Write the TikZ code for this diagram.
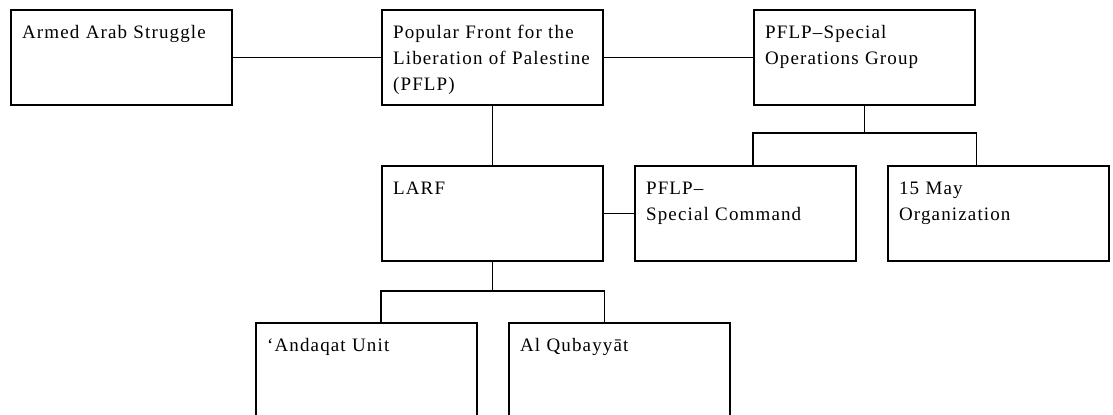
\documentclass[tikz,border=0pt]{standalone}
\usepackage{fontspec}
\setmainfont{Liberation Serif}[LetterSpace=6]
\tikzset{
  px/.style={x={(0.5pt,0pt)}, y={(0pt,-0.5pt)}},
  unit/.style={draw, line width=1.1pt, anchor=north west, align=left,
    minimum width=110.5pt, text width=99.5pt, inner xsep=5.5pt, inner ysep=0pt,
    text height=14pt, text depth=33.5pt,
    font=\fontsize{9.5}{13}\selectfont},
  link/.style={black, line width=0.6pt},
}

\begin{document}
\begin{tikzpicture}[px]
  \useasboundingbox (0,0) rectangle (1113,415);

  % --- top row ---
  \node[unit] (aas)  at (10,9)  {Armed Arab Struggle};
  \node[unit] (pflp) at (381,9) {Popular Front for the\\Liberation of Palestine\\(PFLP)};
  \node[unit] (sog)  at (753,9) {PFLP--Special\\Operations Group};

  % --- middle row ---
  \node[unit] (larf) at (381,165) {LARF};
  \node[unit] (spc)  at (634,165) {PFLP--\\Special Command};
  \node[unit] (may)  at (887,165) {15 May\\Organization};

  % --- bottom row ---
  \node[unit] (and) at (255,322) {`Andaqat Unit};
  \node[unit] (qub) at (508,322) {Al Qubayyāt};

  % bar heights of the two forks
  \coordinate (sbar) at (0,133);
  \coordinate (lbar) at (0,291);

  % --- connectors ---
  \draw[link] (aas.east) -- (pflp.west);
  \draw[link] (pflp.east) -- (sog.west);
  \draw[link] (pflp.south) -- (pflp.south |- larf.north);
  \draw[link] (larf.east) -- (spc.west);

  \draw[link] (sog.south) -- (sog.south |- sbar);
  \draw[link] (spc.north -| sog.west) -- (sog.west |- sbar)
    -- (sog.east |- sbar) -- (may.north -| sog.east);

  \draw[link] (larf.south) -- (larf.south |- lbar);
  \draw[link] (and.north -| larf.west) -- (larf.west |- lbar)
    -- (larf.east |- lbar) -- (qub.north -| larf.east);
\end{tikzpicture}
\end{document}
